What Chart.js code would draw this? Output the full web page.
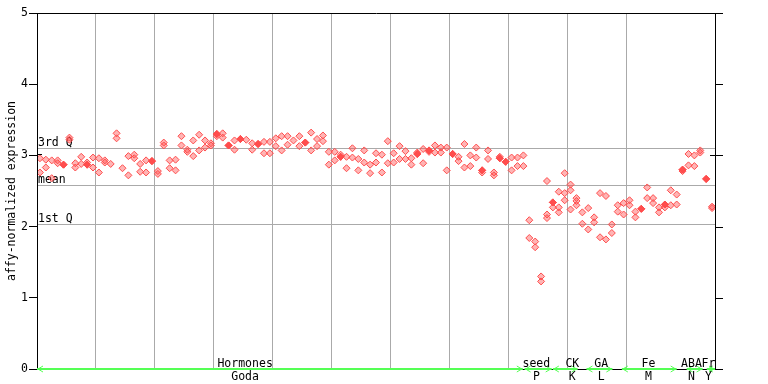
<!DOCTYPE html>
<html><head><meta charset="utf-8">
<script src="https://cdn.jsdelivr.net/npm/chart.js@4/dist/chart.umd.min.js"></script>
<style>html,body{margin:0;padding:0;background:#fff;}canvas{display:block}</style>
</head><body>
<canvas id="c" width="768" height="384"></canvas>
<script>
// replicate values per sample (115 samples, left to right)
const rep1 = [2.96,2.94,2.93,2.93,2.87,3.25,2.89,2.98,2.87,2.97,
  2.96,2.93,2.88,3.31,2.82,2.99,3.01,2.88,2.93,2.92,
  2.78,3.18,2.93,2.94,3.27,3.08,3.21,3.29,3.21,3.17,
  3.30,3.31,3.14,3.21,3.23,3.22,3.17,3.16,3.19,3.19,
  3.24,3.27,3.27,3.21,3.27,3.18,3.32,3.23,3.28,3.05,
  3.05,2.98,2.98,3.10,2.95,3.07,2.87,3.03,3.01,3.20,
  3.03,3.13,3.06,2.96,3.02,3.09,3.07,3.14,3.11,3.11,
  3.02,2.98,3.16,3.00,3.11,2.79,3.07,2.76,2.96,2.91,
  2.97,2.97,3.00,2.09,1.79,1.30,2.64,2.34,2.49,2.75,
  2.59,2.40,2.20,2.26,2.13,2.47,2.43,2.03,2.30,2.33,
  2.37,2.21,2.25,2.55,2.40,2.27,2.31,2.51,2.45,2.80,
  3.02,3.00,3.07,2.67,2.28];
const rep2 = [2.76,2.83,2.68,2.89,2.87,3.22,2.83,2.88,2.87,2.83,
  2.76,2.90,null,3.24,null,2.72,2.96,2.77,2.76,2.92,
  2.74,3.14,2.82,2.79,3.14,3.05,2.99,3.07,3.11,3.14,
  3.30,3.25,3.14,3.08,3.23,null,3.08,3.16,3.03,3.03,
  3.13,3.07,3.15,null,3.13,3.18,3.07,3.13,3.20,2.87,
  2.93,2.98,2.82,2.97,2.79,2.90,2.75,2.90,2.76,2.89,
  2.90,2.95,2.95,2.87,3.02,2.89,3.07,3.04,3.04,2.79,
  3.02,2.92,2.83,2.85,2.97,2.79,2.95,2.72,2.96,2.91,
  2.79,2.85,2.85,1.84,1.71,1.23,2.17,2.34,2.27,2.47,
  2.51,2.36,2.04,1.96,2.06,1.85,1.82,1.91,2.21,2.17,
  2.30,2.13,2.25,2.40,2.33,2.20,2.31,2.30,2.31,2.80,
  2.86,2.85,3.04,2.67,2.26];
// third replicate where present
const rep3Sample = [8,30,51,64,66,75,78,86,87,88,89,90,91,106,109];
const rep3Value  = [2.90,3.27,3.01,3.04,3.05,2.76,2.98,2.12,2.27,2.20,2.37,2.24,2.30,2.27,2.78];

// reference lines
const refValues = [3.10, 2.58, 2.03];
const refLabels = ['3rd Q', 'mean', '1st Q'];

// experiment groups (sample-axis units)
const groupNames = ['Hormones','seed','CK','GA','Fe','ABA','Fr'];
const groupCodes = ['Goda','P','K','L','M','N','Y'];
const groupStart = [0, 82.7, 87.5, 93.2, 99.2, 110.2, 113.6];
const groupEnd   = [82.4, 87.3, 91.7, 97.6, 108.5, 112.9, 115];
const groupLabelAt = [35.3, 84.7, 90.8, 95.7, 103.7, 111.0, 113.9];

const FONTFAM = '"DejaVu Sans Mono", monospace';
const FSIZE = 11.5;
const RED = '#ff4d4d';
const LIGHT = 'rgba(255,77,77,0.42)';

const toPts = arr => arr.map((v,i)=> v==null ? null : {x:i+0.5, y:v}).filter(p=>p);
const solid = (i)=> rep1[i]!=null && rep1[i]===rep2[i];
const bg = ()=> (ctx)=>{
  const i = Math.round(ctx.raw ? ctx.raw.x - 0.5 : 0);
  return solid(i) ? RED : LIGHT;
};

const overlay = {
  id:'overlay',
  beforeDatasetsDraw(chart){
    const {ctx, chartArea:a, scales:{y}} = chart;
    ctx.save();
    ctx.strokeStyle = '#aaaaaa'; ctx.lineWidth = 1;
    ctx.font = FSIZE + 'px ' + FONTFAM; ctx.fillStyle = '#000';
    ctx.textAlign = 'left'; ctx.textBaseline = 'alphabetic';
    refValues.forEach((v,i)=>{
      const py = Math.round(y.getPixelForValue(v)) + 0.5;
      ctx.beginPath(); ctx.moveTo(a.left, py); ctx.lineTo(a.right, py); ctx.stroke();
      ctx.fillText(refLabels[i], a.left + 1, py - 3);
    });
    ctx.restore();
  },
  afterDraw(chart){
    const {ctx, chartArea:a, scales:{x,y}} = chart;
    ctx.save();
    ctx.strokeStyle = '#000'; ctx.lineWidth = 1;
    ctx.beginPath();
    ctx.moveTo(a.left+0.5, a.top); ctx.lineTo(a.left+0.5, a.bottom+1);
    ctx.moveTo(a.left, a.top+0.5); ctx.lineTo(a.right+1, a.top+0.5);
    ctx.moveTo(a.right+0.5, a.top); ctx.lineTo(a.right+0.5, a.bottom+1);
    ctx.moveTo(a.left, a.bottom+0.5); ctx.lineTo(a.right+1, a.bottom+0.5);
    ctx.stroke();
    ctx.beginPath();
    for (let v=0; v<=5; v++){
      const py = Math.round(y.getPixelForValue(v)) + 0.5;
      ctx.moveTo(a.right, py); ctx.lineTo(a.right+8, py);
    }
    const p3 = Math.round(y.getPixelForValue(3)) - 0.5;
    ctx.moveTo(a.left, p3); ctx.lineTo(a.left+5, p3);
    ctx.moveTo(a.right-5, p3+1); ctx.lineTo(a.right, p3+1);
    ctx.stroke();
    const gy = a.bottom;
    ctx.strokeStyle = '#55ff55';
    groupNames.forEach((n,i)=>{
      const x0 = x.getPixelForValue(groupStart[i]);
      const x1 = Math.min(x.getPixelForValue(groupEnd[i]), a.right);
      ctx.lineWidth = 2;
      ctx.beginPath(); ctx.moveTo(x0, gy); ctx.lineTo(x1, gy); ctx.stroke();
      ctx.lineWidth = 1;
      ctx.beginPath();
      ctx.moveTo(x0+6, gy-3); ctx.lineTo(x0+1, gy); ctx.lineTo(x0+6, gy+3);
      ctx.moveTo(x1-6, gy-3); ctx.lineTo(x1-1, gy); ctx.lineTo(x1-6, gy+3);
      ctx.stroke();
    });
    ctx.fillStyle = '#000';
    ctx.font = FSIZE + 'px ' + FONTFAM;
    ctx.textAlign = 'center'; ctx.textBaseline = 'alphabetic';
    groupNames.forEach((n,i)=>{
      const px = x.getPixelForValue(groupLabelAt[i]);
      ctx.fillText(n, px, gy - 2);
      ctx.fillText(groupCodes[i], px, gy + 11);
    });
    ctx.restore();
  }
};

const ptOpts = {
  pointStyle:'rectRot', pointRadius:3.5, pointHoverRadius:3.5,
  pointBorderColor:RED, pointBorderWidth:1, showLine:false
};

new Chart(document.getElementById('c'), {
  type:'scatter',
  data:{ datasets:[
    Object.assign({label:'rep1', data:toPts(rep1), pointBackgroundColor:bg()}, ptOpts),
    Object.assign({label:'rep2', data:toPts(rep2), pointBackgroundColor:bg()}, ptOpts),
    Object.assign({label:'rep3', data:rep3Sample.map((s,j)=>({x:s+0.5, y:rep3Value[j]})), pointBackgroundColor:LIGHT}, ptOpts)
  ]},
  options:{
    responsive:false, animation:false, devicePixelRatio:1,
    layout:{padding:{top:13, right:53, bottom:0, left:0}},
    plugins:{legend:{display:false}, tooltip:{enabled:false}},
    scales:{
      x:{type:'linear', min:0, max:115, position:'bottom',
        ticks:{display:false, stepSize:10},
        grid:{color:'#aaaaaa', lineWidth:1, drawTicks:false},
        border:{display:false},
        afterFit(s){ s.height = 15; }},
      y:{min:0, max:5,
        ticks:{stepSize:1, color:'#000', font:{family:FONTFAM, size:FSIZE}, padding:1},
        grid:{drawOnChartArea:false, drawTicks:true, tickLength:8, color:'#000'},
        border:{display:false},
        title:{display:true, text:'affy-normalized expression', color:'#000',
          font:{family:FONTFAM, size:FSIZE}, padding:{top:5, bottom:0}},
        afterFit(s){ s.width = 37; }}
    }
  },
  plugins:[overlay]
});
</script></body></html>
